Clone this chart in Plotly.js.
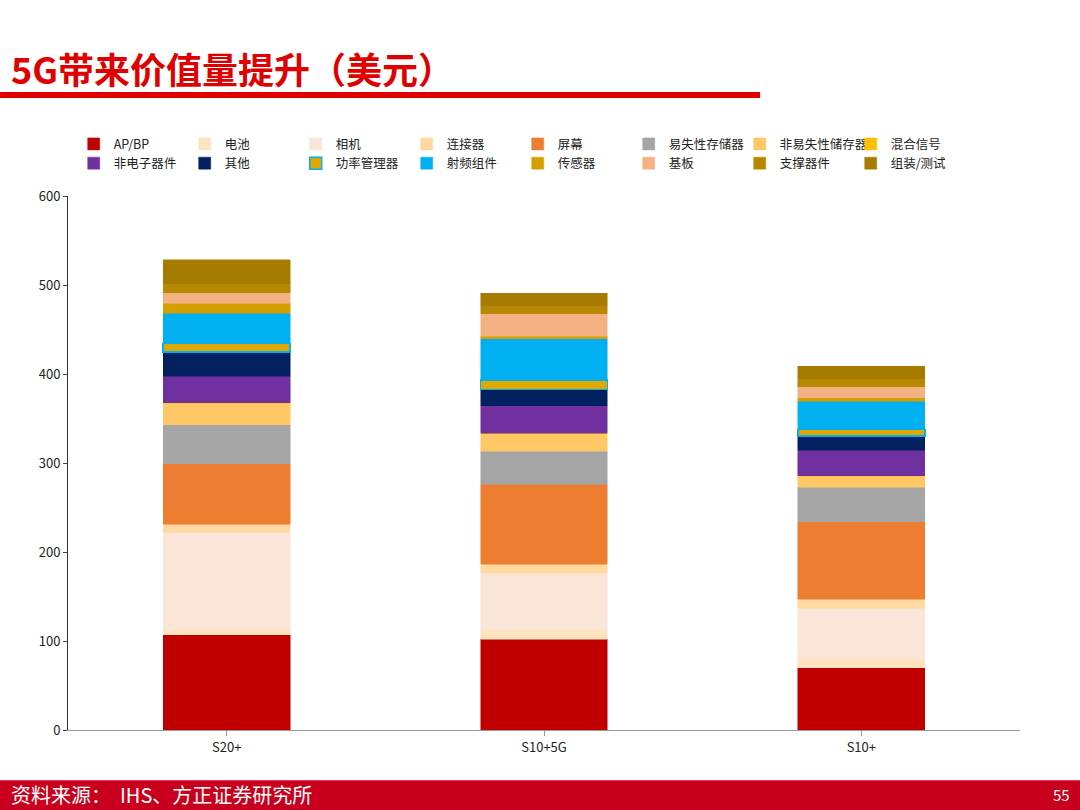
<!DOCTYPE html>
<html>
<head>
<meta charset="utf-8">
<script src="https://cdn.plot.ly/plotly-3.0.1.min.js"></script>
<style>body{margin:0;}#chart{width:1080px;height:810px;}</style>
</head>
<body>
<div id="chart"></div>
<script>
// Categories and per-component values (USD)
const models = ['S20+', 'S10+5G', 'S10+'];
const components = ['AP/BP', '电池', '相机', '连接器', '屏幕', '易失性存储器', '非易失性储存器', '混合信号',
  '非电子器件', '其他', '功率管理器', '射频组件', '传感器', '基板', '支撑器件', '组装/测试'];
const apbp = [107, 102, 70];
const battery = [7, 11, 10];
const camera = [108, 63, 57];
const connector = [9, 10, 10];
const screen = [68, 90, 87];
const volatileMem = [44, 37, 39];
const nonVolatileMem = [24, 20, 12];
const mixedSignal = [0.5, 0.5, 0.5];
const nonElectronic = [30, 31, 29];
const others = [27, 18, 16];
const powerMgmt = [10, 11, 7];
const rf = [34, 46, 32];
const sensor = [11, 3, 4];
const substrate = [12, 25, 12];
const support = [10, 9, 9];
const assembly = [27, 14, 14];

const series = [apbp, battery, camera, connector, screen, volatileMem, nonVolatileMem, mixedSignal,
  nonElectronic, others, powerMgmt, rf, sensor, substrate, support, assembly];
const colors = ['#C00000', '#FDE3C0', '#FAE5D8', '#FFD9A0', '#ED7D31', '#A5A5A5', '#FFC864', '#FFC000',
  '#7030A0', '#002060', '#E0A800', '#00B0F0', '#D4A000', '#F4B183', '#B78800', '#A67C00'];

var traces = series.map((vals, i) => ({
  x: models,
  y: vals,
  name: components[i],
  type: 'bar',
  width: 0.4,
  marker: {
    color: colors[i],
    line: { color: i == 10 ? '#00B0F0' : colors[i], width: i == 10 ? 1.5 : 0.5 },
  },
}));

var layout = {
  width: 1080,
  height: 810,
  barmode: 'stack',
  paper_bgcolor: '#fff',
  plot_bgcolor: '#fff',
  font: { family: 'Noto Sans CJK SC, sans-serif', size: 13, color: '#222' },
  margin: { l: 68, r: 60, t: 196, b: 80 },
  showlegend: true,
  legend: {
    orientation: 'h',
    x: 0.006, y: 1.125, xanchor: 'left', yanchor: 'top',
    entrywidth: 66, entrywidthmode: 'pixels',
    traceorder: 'normal',
    font: { size: 12.5 },
    itemwidth: 30,
  },
  xaxis: {
    showline: true, linecolor: '#999', ticks: 'outside', tickcolor: '#999',
    tickfont: { size: 13 },
  },
  yaxis: {
    range: [0, 600], dtick: 100, showgrid: false, showline: true, linecolor: '#333',
    ticks: 'outside', ticklen: 4, tickfont: { size: 13 }, zeroline: false,
  },
  shapes: [
    { type: 'line', xref: 'paper', yref: 'paper', x0: -0.072, x1: 0.727, y0: 1.189, y1: 1.189,
      line: { color: '#E00000', width: 6 } },
    { type: 'rect', xref: 'paper', yref: 'paper', x0: -0.1, x1: 1.1, y0: -0.094, y1: -0.16,
      fillcolor: '#C8001E', line: { width: 0 } },
  ],
  annotations: [
    { text: '<b>5G带来价值量提升（美元）</b>', xref: 'paper', yref: 'paper', x: -0.062, y: 1.24,
      xanchor: 'left', yanchor: 'middle', showarrow: false, font: { size: 36, color: '#E00000' } },
    { text: '资料来源：  IHS、方正证券研究所', xref: 'paper', yref: 'paper', x: -0.062, y: -0.121,
      xanchor: 'left', yanchor: 'middle', showarrow: false, font: { size: 20, color: '#fff' } },
    { text: '55', xref: 'paper', yref: 'paper', x: 1.055, y: -0.121,
      xanchor: 'right', yanchor: 'middle', showarrow: false, font: { size: 15, color: '#fff' } },
  ],
};

Plotly.newPlot('chart', traces, layout, { displayModeBar: false });
</script>
</body>
</html>
